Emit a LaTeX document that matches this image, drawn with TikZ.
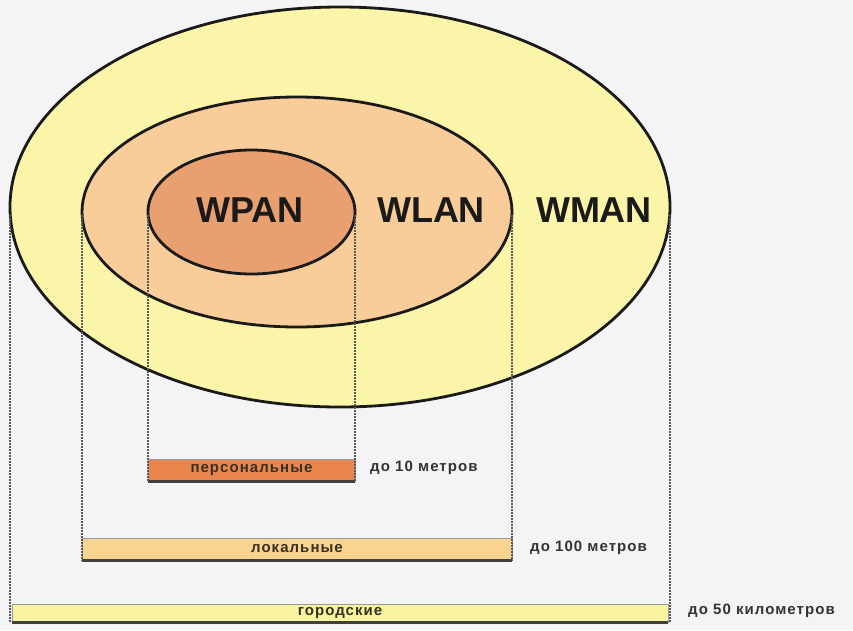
\documentclass[tikz,border=0pt]{standalone}
\usepackage{fontspec}
\setmainfont{Liberation Sans}
\newfontfamily\spacedfont[LetterSpace=7]{Liberation Sans}
\usetikzlibrary{shapes.geometric}
\definecolor{bgcol}{HTML}{F4F4F6}
\definecolor{mancol}{HTML}{FAF5A8}
\definecolor{lancol}{HTML}{F8CD9A}
\definecolor{pancol}{HTML}{E8A070}
\definecolor{barpan}{HTML}{E8864E}
\definecolor{barlan}{HTML}{F9D491}
\definecolor{barman}{HTML}{F8F4A0}
\definecolor{inkcol}{HTML}{1A1A1A}
\definecolor{bartext}{HTML}{3A3020}
\tikzset{
  zone/.style={ellipse, draw=inkcol, line width=2.8pt, inner sep=0pt},
  netname/.style={font=\bfseries\fontsize{36}{36}\selectfont, text=inkcol, inner sep=0pt},
  rangebar/.style={rectangle, draw=gray!80, line width=0.8pt, inner sep=0pt,
    font=\spacedfont\bfseries\fontsize{15}{15}\selectfont, text=bartext},
  barshade/.style={draw=black!75, line width=2.4pt},
  rangelabel/.style={font=\spacedfont\bfseries\fontsize{15}{15}\selectfont, text=black!80, anchor=west, inner sep=0pt},
  guide/.style={draw=black!65, line width=1.3pt, dash pattern=on 1.5pt off 1.5pt}
}
\begin{document}
\begin{tikzpicture}[x=1pt,y=-1pt]
\fill[bgcol] (0,0) rectangle (853,630);
\useasboundingbox (0,0) rectangle (853,630);

% nested coverage areas
\node[zone, fill=mancol, minimum width=660pt, minimum height=400pt] (wman) at (340,207) {};
\node[zone, fill=lancol, minimum width=430pt, minimum height=230pt] (wlan) at (297,212) {};
\node[zone, fill=pancol, minimum width=207pt, minimum height=124pt] (wpan) at (251.5,212) {};

% range bars
\node[rangebar, fill=barpan, minimum width=207pt, minimum height=22pt] (pbar) at (251.5,470) {персональные};
\node[rangebar, fill=barlan, minimum width=430pt, minimum height=22pt] (lbar) at (297,549) {локальные};
\node[rangebar, fill=barman, minimum width=656pt, minimum height=18pt] (mbar) at (340,613) {городские};
\draw[barshade] (pbar.south west) -- (pbar.south east);
\draw[barshade] (lbar.south west) -- (lbar.south east);
\draw[barshade] (mbar.south west) -- (mbar.south east);

% dotted guides from each area down to its bar
\coordinate (g1) at (10,215);
\coordinate (g2) at (670,215);
\coordinate (g3) at (82,215);
\coordinate (g4) at (512,215);
\coordinate (g5) at (148,215);
\coordinate (g6) at (355,215);
\draw[guide] (g1) -- (g1 |- mbar.south);
\draw[guide] (g2) -- (g2 |- mbar.south);
\draw[guide] (g3) -- (g3 |- lbar.south);
\draw[guide] (g4) -- (g4 |- lbar.south);
\draw[guide] (g5) -- (g5 |- pbar.south);
\draw[guide] (g6) -- (g6 |- pbar.south);

% network names
\node[netname] (tpan) at (250,210) {WPAN};
\node[netname] (tlan) at (431,210) {WLAN};
\node[netname] (tman) at (594,210) {WMAN};

% distance labels
\node[rangelabel] (dpan) at (370,468) {до 10 метров};
\node[rangelabel] (dlan) at (530,548) {до 100 метров};
\node[rangelabel] (dman) at (688,611) {до 50 километров};
\end{tikzpicture}
\end{document}
